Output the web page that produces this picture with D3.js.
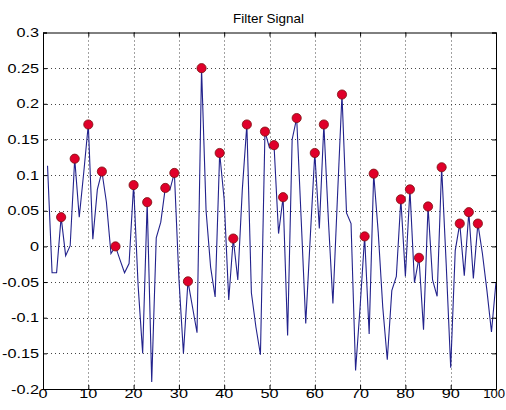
<!DOCTYPE html>
<html><head><meta charset="utf-8">
<script src="https://cdn.jsdelivr.net/npm/d3@7"></script>
<style>body{margin:0;background:#fff}svg{display:block}text{font-family:"Liberation Sans",Arial,sans-serif}</style>
</head><body><svg id="c" width="506" height="410"></svg>
<script>
const title = "Filter Signal";
const xValues = d3.range(1, 101);
const signal = [0.113,-0.037,-0.037,0.041,-0.013,0.001,0.123,0.041,0.104,0.171,
0.010,0.080,0.105,0.062,-0.010,0.000,-0.019,-0.037,-0.024,0.086,
-0.055,-0.150,0.062,-0.190,0.012,0.034,0.082,0.079,0.103,-0.045,
-0.150,-0.049,-0.085,-0.121,0.250,0.050,-0.029,-0.071,0.131,0.065,
-0.075,0.011,-0.047,0.080,0.171,-0.065,-0.113,-0.152,0.161,0.138,
0.142,0.018,0.069,-0.125,0.150,0.180,0.037,-0.108,0.013,0.131,
0.025,0.171,0.037,-0.080,0.069,0.213,0.047,0.032,-0.174,-0.085,
0.014,-0.123,0.102,0.020,-0.085,-0.159,-0.062,-0.042,0.066,-0.042,
0.080,-0.051,-0.016,-0.117,0.056,-0.047,-0.070,0.111,-0.024,-0.170,
-0.006,0.032,-0.041,0.048,-0.045,0.032,-0.010,-0.062,-0.120,-0.050];
const peakX = [4,7,10,13,16,20,23,27,29,32,35,39,42,45,49,51,53,56,60,62,66,71,73,79,81,83,85,88,92,94,96];
const xTicks = [0,10,20,30,40,50,60,70,80,90,100];
const yTicks = [-0.2,-0.15,-0.1,-0.05,0,0.05,0.1,0.15,0.2,0.25,0.3];
const yTickLabels = ["-0.2","-0.15","-0.1","-0.05","0","0.05","0.1","0.15","0.2","0.25","0.3"];

const L=43,R=496,T=32.5,B=389,W=506;
const svg=d3.select("#c");
const x=d3.scaleLinear().domain([0,100]).range([L,R]);
const y=d3.scaleLinear().domain([-0.2,0.3]).range([B,T]);

// grid
const g=svg.append("g");
g.selectAll("line.gx").data(xTicks.slice(1,-1)).join("line")
 .attr("x1",d=>Math.round(x(d))+0.5).attr("x2",d=>Math.round(x(d))+0.5).attr("y1",T).attr("y2",B)
 .attr("stroke","#444").attr("stroke-dasharray","1,3");
g.selectAll("line.gy").data(yTicks.slice(1,-1)).join("line")
 .attr("y1",d=>Math.round(y(d))+0.5).attr("y2",d=>Math.round(y(d))+0.5).attr("x1",L).attr("x2",R)
 .attr("stroke","#444").attr("stroke-dasharray","1,3");

// line
const line=d3.line().x((d,i)=>x(xValues[i])).y(d=>y(d));
svg.append("path").datum(signal).attr("d",line).attr("fill","none")
 .attr("stroke","#22228c").attr("stroke-width",1.1);

// peaks
svg.selectAll("circle").data(peakX).join("circle")
 .attr("cx",d=>x(d)).attr("cy",d=>y(signal[d-1])).attr("r",4.6)
 .attr("fill","#e0002a").attr("stroke","#7a1010").attr("stroke-width",0.8);

// axes with inward ticks
const tl=4;
const ax=svg.append("g");
ax.append("g").attr("transform",`translate(0,${B})`)
 .call(d3.axisBottom(x).tickValues(xTicks).tickSize(-tl).tickFormat(""));
ax.append("g").attr("transform",`translate(0,${T})`)
 .call(d3.axisTop(x).tickValues(xTicks).tickSize(-tl).tickFormat(""));
ax.append("g").attr("transform",`translate(${L},0)`)
 .call(d3.axisLeft(y).tickValues(yTicks).tickSize(-tl).tickFormat(""));
ax.append("g").attr("transform",`translate(${R},0)`)
 .call(d3.axisRight(y).tickValues(yTicks).tickSize(-tl).tickFormat(""));
ax.selectAll(".domain").attr("stroke","#000");
ax.selectAll(".tick line").attr("stroke","#000");

// tick labels (MATLAB-like wide glyphs)
const lab=svg.append("g").attr("font-size",12.5).attr("fill","#000");
const last=xTicks[xTicks.length-1];
lab.selectAll("text.xl").data(xTicks).join("text")
 .attr("transform",d=>d===last?`translate(${W-1},${B+9}) scale(1.05,1)`:`translate(${x(d)},${B+9}) scale(1.3,1)`)
 .attr("text-anchor",d=>d===last?"end":"middle").text(d=>String(d));
lab.selectAll("text.yl").data(yTicks).join("text")
 .attr("transform",d=>`translate(${L-4},${y(d)+4.5}) scale(1.3,1)`)
 .attr("text-anchor","end").text((d,i)=>yTickLabels[i]);

svg.append("text").attr("transform",`translate(${(L+R)/2-1},22.5) scale(1.12,1)`).attr("text-anchor","middle")
 .attr("font-size",12).attr("fill","#000").text(title);
</script></body></html>
